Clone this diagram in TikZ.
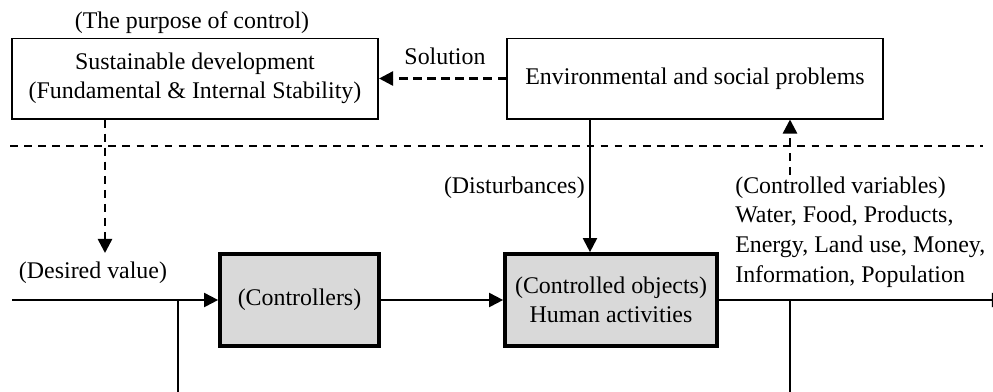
\documentclass[tikz,border=0pt]{standalone}
\usepackage{fontspec}
\setmainfont{Liberation Serif}
\usetikzlibrary{arrows.meta,positioning}
\definecolor{boxgray}{RGB}{217,217,217}

\begin{document}
\begin{tikzpicture}[x=0.025cm,y=-0.025cm,
    font=\fontsize{17}{21}\selectfont,
    every node/.style={inner sep=0pt},
    topbox/.style={draw,line width=1.4pt,align=center,minimum height=2cm},
    ctrlbox/.style={draw,line width=2.6pt,fill=boxgray,align=center,
      minimum height=2.3cm},
    link/.style={line width=1.4pt},
    flow/.style={link,-{Triangle[length=10pt,width=10pt]}},
    dflow/.style={flow,line width=1.8pt,dash pattern=on 6pt off 4pt},
    sep/.style={line width=1.1pt,dash pattern=on 5.5pt off 4.5pt}]
    \useasboundingbox (0,0) rectangle (993,391);
    % upper level
    \node[topbox,minimum width=9.15cm] (goal) at (195,78.5)
      {Sustainable development\\(Fundamental \& Internal Stability)};
    \node[anchor=base] (purpose) at (192,28) {(The purpose of control)};
    \node[topbox,minimum width=9.4cm] (problems) at (695,78.5)
      {Environmental and social problems};
    \node[anchor=base] (solution) at (445,64) {Solution};
    \draw[dflow] (problems.west) -- (goal.east);
    % separator
    \coordinate (sepL) at (10,146);
    \coordinate (sepR) at (983,146);
    \draw[sep] (sepL) -- (sepR);
    % control loop
    \node[ctrlbox,minimum width=3.975cm] (controllers) at (299.5,300)
      {(Controllers)};
    \node[ctrlbox,minimum width=5.3cm] (objects) at (611,300)
      {(Controlled objects)\\Human activities};
    \coordinate (in) at (12,300);
    \coordinate (out) at (1006,300);
    \coordinate (fbL) at (178,300);
    \coordinate (fbR) at (790,300);
    \draw[flow] (in) -- (controllers);
    \draw[flow] (controllers) -- (objects);
    \draw[flow] (objects) -- (out);
    \draw[link] (fbL) -- (fbL |- 0,395);
    \draw[link] (fbR) -- (fbR |- 0,395);
    % signals
    \coordinate (dv) at (105,253);
    \draw[dflow] (dv |- goal.south) -- (dv);
    \node[anchor=base] (desired) at (93,278) {(Desired value)};
    \coordinate (dist) at ([xshift=2.1cm]problems.south west);
    \draw[flow] (dist) -- (dist |- objects.north);
    \node[anchor=base east] (disturb) at (585,193) {(Disturbances)};
    \coordinate (cv) at (790,175);
    \draw[dflow] (cv) -- (cv |- problems.south);
    \node[anchor=base west,align=left] (vars) at (735,282)
      {(Controlled variables)\\Water, Food, Products,\\
       Energy, Land use, Money,\\Information, Population};
\end{tikzpicture}
\end{document}
